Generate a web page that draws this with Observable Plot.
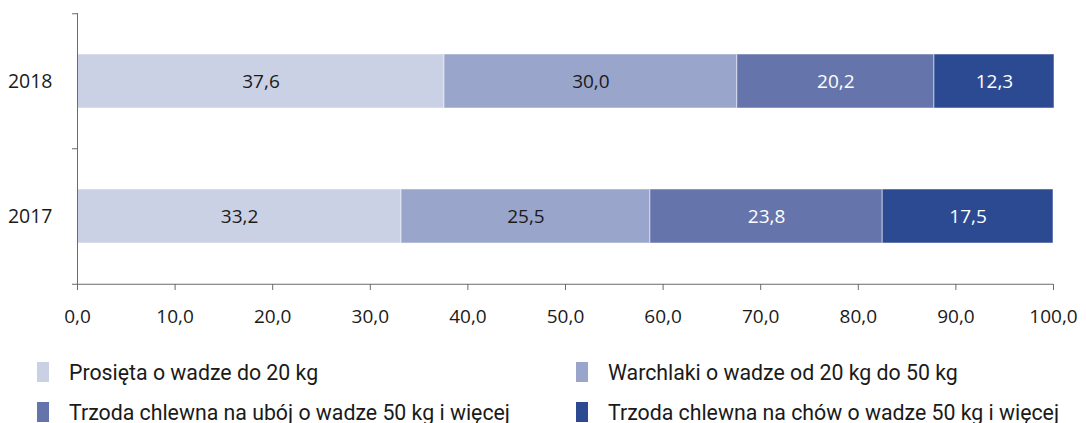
<!DOCTYPE html>
<html>
<head>
<meta charset="utf-8">
<script src="https://cdn.jsdelivr.net/npm/d3@7"></script>
<script src="https://cdn.jsdelivr.net/npm/@observablehq/plot@0.6"></script>
<style>
  html, body { margin: 0; padding: 0; background: #fff; }
  body { width: 1086px; height: 423px; overflow: hidden; position: relative; font-family: "Open Sans", sans-serif; }
  #legend { position: absolute; left: 0; top: 352px; width: 1086px; font-family: Roboto, sans-serif; font-size: 21.3px; color: #1a1a1a; }
  .item { display: flex; align-items: center; position: absolute; white-space: nowrap; }
  .sw { width: 12px; height: 20px; margin-right: 20px; }
</style>
</head>
<body>
<div id="chart"></div>
<div id="legend"></div>
<script>
const years = ["2018", "2017"];
const categories = [
  "Prosięta o wadze do 20 kg",
  "Warchlaki o wadze od 20 kg do 50 kg",
  "Trzoda chlewna na ubój o wadze 50 kg i więcej",
  "Trzoda chlewna na chów o wadze 50 kg i więcej"
];
const values2018 = [37.6, 30.0, 20.2, 12.3];
const values2017 = [33.2, 25.5, 23.8, 17.5];
const colors = ["#cbd1e5", "#99a5cb", "#6575ab", "#2c4a92"];
const xTicks = [0, 10, 20, 30, 40, 50, 60, 70, 80, 90, 100];

const seriesByYear = {"2018": values2018, "2017": values2017};
const data = years.flatMap(y => categories.map((c, i) => ({year: y, category: c, idx: i, value: seriesByYear[y][i]})));
const fmt = v => v.toFixed(1).replace(".", ",");

const W = 1086, H = 340, mT = 13, mB = 56, mL = 77, mR = 33;
const step = (H - mT - mB) / 2;
const axisGray = "#6b6b6b";

const chart = Plot.plot({
  width: W, height: H,
  marginTop: mT, marginBottom: mB, marginLeft: mL, marginRight: mR,
  x: {domain: [0, 100]},
  y: {domain: years, paddingInner: 0.6, paddingOuter: 0.3},
  color: {domain: categories, range: colors},
  style: {fontFamily: "'Open Sans', sans-serif", fontSize: "19px", color: "#1a1a1a", background: "white"},
  marks: [
    Plot.barX(data, Plot.stackX({x: "value", y: "year", fill: "category", stroke: "white", strokeOpacity: 0.5, strokeWidth: 1})),
    Plot.text(data, Plot.stackX({x: "value", y: "year", z: "category", text: d => d.idx < 2 ? fmt(d.value) : "", fill: "#1a1a1a", fontSize: 19})),
    Plot.text(data, Plot.stackX({x: "value", y: "year", z: "category", text: d => d.idx >= 2 ? fmt(d.value) : "", fill: "white", fontSize: 19})),
    Plot.ruleX([0], {stroke: axisGray}),
    Plot.ruleY(years, {dy: -step / 2, x1: 0, x2: 0, insetLeft: -5, stroke: axisGray}),
    Plot.ruleY([years[years.length - 1]], {dy: step / 2, x1: 0, x2: 100, insetLeft: -5, stroke: axisGray}),
    Plot.axisX({ticks: xTicks, tickFormat: fmt, tickSize: 6, tickPadding: 19, fontSize: 19, color: "#1a1a1a", stroke: axisGray, label: null}),
    Plot.axisY({tickSize: 0, tickPadding: 25, fontSize: 19.5, color: "#1a1a1a", label: null})
  ]
});
document.getElementById("chart").appendChild(chart);

const legend = document.getElementById("legend");
const lefts = [37, 576];
categories.forEach((c, i) => {
  const item = document.createElement("div");
  item.className = "item";
  item.style.left = lefts[i % 2] + "px";
  item.style.top = (Math.floor(i / 2) * 40) + "px";
  item.style.height = "40px";
  const sw = document.createElement("div");
  sw.className = "sw";
  sw.style.background = colors[i];
  const t = document.createElement("span");
  t.textContent = c;
  item.appendChild(sw);
  item.appendChild(t);
  legend.appendChild(item);
});
</script>
</body>
</html>
